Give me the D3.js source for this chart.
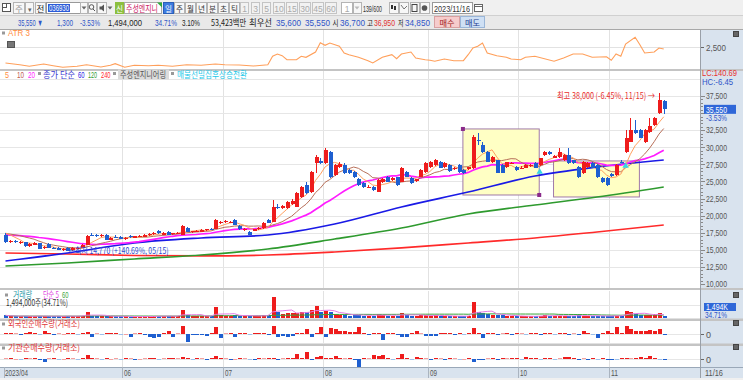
<!DOCTYPE html>
<html><head><meta charset="utf-8">
<script src="https://cdn.jsdelivr.net/npm/d3@7"></script>
<style>
body{margin:0;background:#fff;overflow:hidden}
svg{display:block;font-family:"Noto Sans CJK KR","Noto Sans",sans-serif}
</style></head><body><svg id="c" width="743" height="380"></svg>
<script>
// ---------------- DATA ----------------
const openP = [17150,16150,16300,16050,16100,15500,15750,15950,15200,15900,15300,15250,15000,15300,14950,15200,15300,15700,17200,17150,
17000,17150,16500,16900,16900,16600,16950,16800,16950,16900,17150,17300,17750,17200,17600,17250,17350,17200,18200,17550,
17650,17600,17850,18000,18100,18900,19000,18950,19400,18500,17900,17650,17800,18000,18200,19350,19050,21300,21100,21100,
21700,21300,22700,24500,23450,27700,28000,27700,29300,25950,27100,27400,26700,26400,25400,24800,24200,24200,23450,24900,
25650,25200,25650,24900,26400,25500,25100,25650,26400,27100,27400,27850,27100,27400,26800,27400,26700,26800,26950,31100,
30350,29300,27850,28100,27400,27100,27600,27100,26900,26950,27300,27700,27400,28850,29300,28450,28600,28150,28850,28100,
27100,26250,27100,27700,27400,25500,25500,26050,25950,27900,29300,30750,32550,32500,30750,32250,33250,35000,36700];
const highP = [17450,16450,16400,16250,16200,15980,16100,16050,15550,16050,15450,15350,15250,15400,15350,15450,15800,17150,17400,17300,
17250,17250,16900,17100,17000,16850,17100,17050,17100,17300,17400,17550,17900,17600,17750,17450,17550,18650,18350,17800,
17900,18000,18100,18150,19500,19250,19300,19250,19550,18650,18200,17700,18100,18300,19000,19500,22300,21650,21500,22100,
22400,23400,24300,24900,26500,28900,28400,29900,29500,27500,27800,27700,26800,26500,25500,24900,24500,24350,25350,25500,
25800,25650,25700,27100,26500,25600,25400,26800,27800,27950,28300,28000,27800,27550,27150,27500,26800,27150,31800,32100,
30700,29400,28700,28200,27500,27900,27900,27300,27300,27500,27550,27800,28500,29450,29400,28800,29900,28950,29900,28200,
27200,27950,27800,27800,27500,25650,25600,26200,27500,28100,32500,34300,34000,32700,32600,34300,34400,38000,36950];
const lowP = [16050,16000,15950,15900,15400,15400,15650,15100,15100,15250,15050,14950,14900,14770,14850,15100,15200,15650,16950,16900,
16850,16400,16400,16700,16550,16500,16800,16750,16850,16850,17050,17200,17350,17150,17150,17150,17250,17150,17550,17450,
17550,17550,17750,17850,18050,18800,18900,18850,18650,17950,17800,17150,17700,17900,18100,18850,19000,20900,20950,21000,
21500,21200,22600,23200,23300,26250,27500,27500,25500,25800,27000,26100,26100,25500,24400,24100,24000,23650,23400,24800,
24850,25100,24400,24850,25600,24700,24950,25600,26300,27000,27300,26900,27000,26450,26700,26300,26150,26700,26800,30300,
29200,27800,27700,26200,26200,26900,27500,26600,26800,26900,27100,26900,27300,28700,28900,28400,28500,28050,27600,27600,
25550,26150,27000,26900,25550,24800,24400,25700,25850,27700,29200,30700,31900,31300,30600,32100,33100,34900,34850];
const closeP = [16150,16300,16100,16150,15500,15900,15950,15150,15450,15300,15150,15000,15150,14900,15250,15300,15700,17000,17050,17000,
17100,16450,16800,16850,16600,16750,16900,16950,16950,17200,17300,17450,17450,17500,17200,17400,17450,18500,17600,17700,
17800,17900,18000,17950,19350,19100,19150,19100,18700,18000,18100,17200,18000,18200,18900,18950,21250,21100,21400,22000,
22200,23300,24200,23300,26400,28600,27700,29600,25650,27400,27600,26250,26250,25650,24500,24200,24250,23750,25200,25350,
24900,25500,24500,26950,25650,24800,25300,26700,27700,27850,28150,27000,27700,26500,27000,26400,26250,27050,31500,30900,
29300,27850,28600,26300,26300,27800,27750,26700,27000,27400,27450,26950,28450,29300,29000,28700,29300,28850,27700,27700,
25650,27850,27700,26950,25650,24900,24500,25800,27400,27800,31350,32500,32100,31350,32500,33100,34300,36850,35550];
// closes before the first visible bar (for the short moving averages)
const priorClose = [16900,16800,17000,16850,16950,17100,17000,16900,17050,17200,17100,17300,17250,17400,17500,17700,17900,17800,17750];
// long moving averages at these bars
const maIdx  = [0,13,27,41,55,69,83,97,111,124,138];
const ma60   = [13365,14535,16000,16730,17170,18780,21270,23460,25800,27120,28140];
const ma120  = [12630,13070,13660,14240,15120,16580,18190,20240,21560,22730,24190];
const ma240  = [14535,14390,14170,14100,14240,14680,15270,16000,16730,17610,18630];
// ATR(3)
const atrIdx = [0,3,5,8,10,12,15,17,20,22,23,25,27,30,32,35,38,41,44,46,49,52,55,56,57,58,59,61,62,63,65,66,67,68,70,71,72,74,76,77,79,81,82,83,85,86,88,89,90,92,94,96,97,98,99,100,101,103,105,106,108,109,111,115,117,119,121,123,126,127,128,129,130,132,133,134,136,137,138];
const atrVal = [790,605,430,681,496,321,430,605,354,539,714,321,539,496,539,430,605,539,681,605,572,463,605,1520,1770,1585,1149,1149,1520,1411,1988,3000,2718,2968,2609,1879,1694,1411,1040,790,1411,1694,1258,1770,1988,1334,1149,1084,975,1225,1040,1040,1694,2424,2609,2968,1879,1585,1411,1225,1149,1411,1520,975,1334,1770,1770,1411,1476,1084,1770,1520,2860,3590,2783,1879,1988,2424,2315];
// volume (thousand shares)
const volume = [2100,1500,1300,1200,1800,1400,1300,1900,1200,1500,1300,1600,1200,1800,1500,1300,2000,4800,
2000,1500,1300,1200,1800,1300,1400,1200,1000,1100,900,1500,1300,1400,1600,1500,1700,1200,1300,6400,
2600,1500,1400,1700,1500,1300,8500,2800,2000,1800,2400,1900,1600,1800,1500,1600,2200,2300,16500,
4500,3200,4000,3800,4200,5000,4600,6200,9500,4500,5800,5200,
3600,2800,2500,2000,2200,2800,2000,1800,2000,3000,2200,2000,1800,2000,4200,
2500,2000,1500,2200,2400,2000,2200,1600,1400,1800,1200,1500,1600,1400,13000,4500,4000,3500,
2500,2800,2200,1800,1500,1400,1300,1500,1200,1400,2000,2400,1800,1500,1700,1600,2000,1600,2200,2000,1500,1400,1800,1700,1600,1500,2000,1800,
5500,5200,3200,2600,2500,2300,3000,4304,1494];
// foreign / institution net buying (thousand shares)
const foreignNet = [60,90,40,-50,80,100,60,-40,190,50, -60,40,30,70,60,-40,50,125,-190,40, -30,50,80,60,-40,30,-190,40,60,-50,
-190,-250,-190,60,210,-190,40,500,-520,-60, -80,-60,-100,60,450,-250,40,50,-190,60, 70,-40,60,80,60,-50,500,-190,-150,-190,
-120,60,80,310,-200,70,420,-200,350,300, 200,190,100,150,420,80,-60,70,90,-380, 60,80,-50,-200,-190,60,160,40,-110,-100,
-120,60,80,70,-50,60,-40,50,380,60, -250,60,70,-50,40,80,-60,50,40,-40, 60,70,-50,80,60,-40,90,60,-50,40,
-60,160,50,-40,-250,60,160,70,420,60, 480,300,200,190,180,220,190,300,-60];
const instNet = [40,60,30,-40,50,40,60,-60,-170,40, 50,-40,30,60,40,-30,70,250,60,40, -40,50,30,40,-30,60,40,-50,30,40,
60,50,-40,40,50,60,40,150,60,-40, 50,40,-60,70,200,60,40,-50,30,60, 40,-40,-60,50,40,60,90,-50,40,60,
80,300,60,450,-60,150,200,60,90,190, 60,40,80,-60,-500,60,40,250,200,250, 60,-40,50,300,60,-40,150,60,40,-60,
50,40,-50,60,40,-40,30,60,-200,-60, -80,40,50,-50,60,40,70,50,-40,120, 60,80,-40,50,60,-40,40,150,150,60,
-50,40,-60,50,-40,60,-70,-60,-40,50, 60,40,80,150,60,180,70,-40,-60];
// pattern boxes and signals
const boxStart = [96,115], boxEnd = [112,133], boxTop = [32680,28000], boxBottom = [23020,22730];
const signalIdx = [112,130], signalPrice = [26390,27260];
const monthIdx = [25,46,67,89,108,127];
const monthLabel = ["06","07","08","09","10","11"];
const priceTicks = [10000,12500,15000,17500,20000,22500,25000,27500,30000,32500,37500];

// ---------------- HELPERS ----------------
const svg = d3.select('#c');
const n = closeP.length;
const PLOT_R = 700;
const RED = '#ee1c1c', BLUE = '#1e5fd0';
function T(g,x,y,s,o={}){
  const t=g.append('text').attr('x',x).attr('y',y).text(s)
    .attr('font-size',o.size||10).attr('fill',o.fill||'#222').attr('text-anchor',o.anchor||'start');
  if(o.w) t.attr('textLength',o.w).attr('lengthAdjust','spacingAndGlyphs');
  if(o.weight) t.attr('font-weight',o.weight);
  if(o.family) t.attr('font-family',o.family);
  return t;
}
const NUMF = '"Liberation Sans","DejaVu Sans",sans-serif';
function sma(arr, prior, len){
  const all = prior.concat(arr), off = prior.length;
  return arr.map((_,i)=>{const s=Math.max(0,i+off-len+1); return d3.mean(all.slice(s,i+off+1));});
}

const x = d3.scaleBand().domain(d3.range(n)).range([3.1, 3.1+4.77*n]);
const cx = i => x(i) + x.bandwidth()/2;

// ---------------- BACKGROUND ----------------
svg.append('rect').attr('width',743).attr('height',380).attr('fill','#ffffff');
svg.append('rect').attr('x',701).attr('y',30).attr('width',42).attr('height',350).attr('fill','#d9e3ee');
svg.append('rect').attr('x',0).attr('y',367).attr('width',743).attr('height',11).attr('fill','#d9e3ee');
svg.append('rect').attr('x',0).attr('y',378).attr('width',743).attr('height',2).attr('fill','#f0f0f0');

// ---------------- TOOLBAR ----------------
const tb = svg.append('g').attr('font-size',10);
tb.append('rect').attr('width',743).attr('height',15).attr('fill','#f0f0f0');
tb.append('rect').attr('y',15).attr('width',743).attr('height',14).attr('fill','#e9e9e9');
tb.append('line').attr('x1',0).attr('x2',743).attr('y1',15.5).attr('y2',15.5).attr('stroke','#d0d0d0');
tb.append('line').attr('x1',0).attr('x2',743).attr('y1',29.5).attr('y2',29.5).attr('stroke','#a8a8a8');
function btn(x0,w,label,o={}){
  tb.append('rect').attr('x',x0+0.5).attr('y',2.5).attr('width',w).attr('height',11)
    .attr('fill',o.bg||'#f7f7f7').attr('stroke',o.stroke||'#b4b4b4');
  if(label) T(tb,x0+w/2+0.5,11.5,label,{size:o.size||8.5,fill:o.fill||'#333',anchor:'middle',family:o.family,w:o.w});
}
tb.append('rect').attr('x',2.5).attr('y',3.5).attr('width',8).attr('height',8).attr('fill','#fff').attr('stroke','#555');
tb.append('rect').attr('x',2.5).attr('y',3.5).attr('width',4).attr('height',4).attr('fill','none').attr('stroke','#555');
btn(13,11,'주',{fill:'#999'}); btn(25,8,'▾',{size:7,fill:'#666'}); btn(35,10,'전',{fill:'#222'});
tb.append('rect').attr('x',46.5).attr('y',2.5).attr('width',40).attr('height',11).attr('fill','#fff').attr('stroke','#999');
tb.append('rect').attr('x',48).attr('y',4).attr('width',22).attr('height',8).attr('fill','#2a5bd7');
T(tb,49,11,'036930',{size:8.5,fill:'#fff',w:20,family:NUMF});
btn(80,7,'',{}); tb.append('path').attr('d','M81.5,6.5L86.5,6.5L84,9.5Z').attr('fill','#666');
btn(88,8,''); tb.append('circle').attr('cx',91.5).attr('cy',7).attr('r',2.3).attr('fill','none').attr('stroke','#555');
tb.append('line').attr('x1',93).attr('y1',9).attr('x2',95).attr('y2',11).attr('stroke','#555');
btn(97,9,''); tb.append('path').attr('d','M99.5,6.5L101.5,6.5L104,4.5L104,11.5L101.5,9.5L99.5,9.5Z').attr('fill','#555');
tb.append('path').attr('d','M107.5,6.5L112.5,6.5L110,9.5Z').attr('fill','#666');
tb.append('rect').attr('x',115).attr('y',2).attr('width',9).attr('height',12).attr('fill','#8cbf3f');
T(tb,119.5,11.5,'신',{size:8.5,fill:'#fff',anchor:'middle',w:7});
tb.append('rect').attr('x',124.5).attr('y',2.5).attr('width',37).attr('height',11).attr('fill','#fff').attr('stroke','#aaa');
T(tb,126,11.5,'주성엔지니',{size:9,fill:'#cc2266',w:32});
tb.append('path').attr('d','M157,2.5L162,2.5L162,7.5Z').attr('fill','#2eaa3c');
btn(163,10,'일',{bg:'#3d7be0',stroke:'#2b5fb8',fill:'#fff',w:7});
['주','월','년','분','초','틱'].forEach((s,k)=>btn(174+k*11,10,s,{fill:'#333',w:7}));
[['1',240,8],['3',251,8],['5',262,8],['10',273,11],['15',286,11],['30',299,11],['45',312,11],['60',325,11]]
  .forEach(d=>btn(d[1],d[2],d[0],{fill:'#aaa',family:NUMF,bg:'#f2f2f2',stroke:'#c4c4c4'}));
btn(341,11,'1',{fill:'#aaa',family:NUMF,bg:'#fff'});
btn(353,8,''); tb.append('path').attr('d','M354.5,6.5L359.5,6.5L357,9.5Z').attr('fill','#bbb');
T(tb,363,11.5,'139/600',{size:9,fill:'#333',w:19,family:NUMF});
[389,399,410,420].forEach(x0=>btn(x0,9,''));
tb.append('rect').attr('x',391).attr('y',5).attr('width',2).attr('height',4).attr('fill','#333');
tb.append('rect').attr('x',394).attr('y',6).attr('width',2).attr('height',4).attr('fill','#333');
tb.append('path').attr('d','M401,5L404,9L407,6').attr('fill','none').attr('stroke','#777');
tb.append('rect').attr('x',412).attr('y',4.5).attr('width',5).attr('height',7).attr('fill','none').attr('stroke','#444');
tb.append('circle').attr('cx',424.5).attr('cy',8).attr('r',2.8).attr('fill','#555');
tb.append('rect').attr('x',432.5).attr('y',2.5).attr('width',40).attr('height',11).attr('fill','#fff').attr('stroke','#999');
T(tb,434,11.5,'2023/11/16',{size:9,fill:'#333',w:36,family:NUMF});
tb.append('rect').attr('x',474.5).attr('y',4.5).attr('width',8).attr('height',7).attr('fill','#fff').attr('stroke','#666');
tb.append('line').attr('x1',474.5).attr('x2',482.5).attr('y1',6.5).attr('y2',6.5).attr('stroke','#666');
// quote row
const qy = 25.5;
T(tb,18,qy,'35,550 ▼',{size:9,fill:'#2f55c8',w:25,family:NUMF});
T(tb,57,qy,'1,300',{size:9,fill:'#2f55c8',w:16,family:NUMF});
T(tb,80,qy,'-3.53%',{size:9,fill:'#2f55c8',w:20,family:NUMF});
T(tb,108,qy,'1,494,000',{size:9,fill:'#222',w:34,family:NUMF});
T(tb,155,qy,'34.71%',{size:9,fill:'#2f55c8',w:22,family:NUMF});
T(tb,182,qy,'3.10%',{size:9,fill:'#222',w:18,family:NUMF});
T(tb,211,qy,'53,423백만',{size:9,fill:'#222',w:35});
T(tb,249,qy,'최우선',{size:9,fill:'#222',w:23});
T(tb,276,qy,'35,600',{size:9,fill:'#2f55c8',w:25,family:NUMF});
T(tb,305,qy,'35,550',{size:9,fill:'#2f55c8',w:25,family:NUMF});
T(tb,332.5,qy,'시',{size:8.5,fill:'#222',w:6});
T(tb,340,qy,'36,700',{size:9,fill:'#2f55c8',w:25,family:NUMF});
T(tb,367,qy,'고',{size:8.5,fill:'#222',w:6});
T(tb,374,qy,'36,950',{size:9,fill:'#e03030',w:21,family:NUMF});
T(tb,398,qy,'저',{size:8.5,fill:'#222',w:5.5});
T(tb,405,qy,'34,850',{size:9,fill:'#2f55c8',w:25,family:NUMF});
tb.append('rect').attr('x',434.5).attr('y',16.5).attr('width',25).attr('height',11).attr('fill','#f6cccc').attr('stroke','#d9a0a0');
T(tb,447,25.5,'매수',{size:8.5,fill:'#a02020',anchor:'middle',w:15});
tb.append('rect').attr('x',460.5).attr('y',16.5).attr('width',24).attr('height',11).attr('fill','#cfe0f4').attr('stroke','#9ab6d8');
T(tb,472.5,25.5,'매도',{size:8.5,fill:'#1f3f90',anchor:'middle',w:15});

// ---------------- PANELS ----------------
const panels = {atr:[30,69], price:[71,288], vol:[291,318.5], fr:[321,343.5], inst:[346,367]};
const defs = svg.append('defs');
Object.entries(panels).forEach(([k,v])=>{
  defs.append('clipPath').attr('id','cl-'+k).append('rect').attr('x',0).attr('y',v[0]).attr('width',PLOT_R).attr('height',v[1]-v[0]);
});
[[69,2],[288,2],[318.5,2.5],[343.5,2.5]].forEach(d=>svg.append('rect').attr('x',0).attr('y',d[0]).attr('width',743).attr('height',d[1]).attr('fill','#c4c4c4'));
svg.append('line').attr('x1',0).attr('x2',743).attr('y1',367.5).attr('y2',367.5).attr('stroke','#9aa8b8');
svg.append('line').attr('x1',700.5).attr('x2',700.5).attr('y1',30).attr('y2',378).attr('stroke','#9aa0a8');

const grid = svg.append('g').attr('stroke','#e2e2e2').attr('stroke-width',1);
monthIdx.forEach(i=>{
  const gx = Math.round(x(i))+0.5;
  Object.values(panels).forEach(v=>grid.append('line').attr('x1',gx).attr('x2',gx).attr('y1',v[0]).attr('y2',v[1]));
});

// ---------------- ATR PANEL ----------------
const yA = d3.scaleLinear().domain([0,4500]).range([70.25,28.94]);
const gA = svg.append('g').attr('clip-path','url(#cl-atr)');
gA.append('line').attr('x1',0).attr('x2',PLOT_R).attr('y1',Math.round(yA(2500))+0.5).attr('y2',Math.round(yA(2500))+0.5).attr('stroke','#e2e2e2');
gA.append('path').datum(atrIdx.map((d,k)=>[cx(d),yA(atrVal[k])]))
  .attr('d',d3.line()).attr('fill','none').attr('stroke','#ff9f5a').attr('stroke-width',1.1);
svg.append('rect').attr('x',2).attr('y',31.5).attr('width',3).attr('height',3).attr('fill','#999');
T(svg,8,36,'ATR 3',{size:9,fill:'#ff8c3c',family:NUMF,w:22});
svg.append('rect').attr('x',7.5).attr('y',41.5).attr('width',7).attr('height',6).attr('fill','#777').attr('stroke','#555');
svg.append('line').attr('x1',701).attr('x2',704).attr('y1',Math.round(yA(2500))+0.5).attr('y2',Math.round(yA(2500))+0.5).attr('stroke','#666');
T(svg,706,yA(2500)+3.2,'2,500',{size:9,fill:'#555',w:20,family:NUMF});

// ---------------- PRICE PANEL ----------------
const yP = d3.scaleLinear().domain([10000,37500]).range([284,96]);
const gP = svg.append('g').attr('clip-path','url(#cl-price)');
d3.range(12500,40001,2500).forEach(v=>{
  const yy=Math.round(yP(v))+0.5;
  gP.append('line').attr('x1',0).attr('x2',PLOT_R).attr('y1',yy).attr('y2',yy).attr('stroke','#e6e6e6');
});
boxStart.forEach((s,k)=>{
  const x0=cx(s)-0.5, x1=cx(boxEnd[k])-0.5;
  gP.append('rect').attr('x',x0).attr('y',yP(boxTop[k])).attr('width',x1-x0).attr('height',yP(boxBottom[k])-yP(boxTop[k]))
    .attr('fill','#ffffc4').attr('stroke','#a07aa8').attr('stroke-width',1);
});
[[cx(boxStart[0])-0.5,yP(boxTop[0])],[cx(boxEnd[0])-0.5,yP(boxBottom[0])]].forEach(p=>
  gP.append('rect').attr('x',p[0]-2).attr('y',p[1]-2).attr('width',4).attr('height',4).attr('fill','#8a2a8a'));
const lineC = d3.line().curve(d3.curveMonotoneX);
[[ma240,'#ff2a2a'],[ma120,'#2e9a2e'],[ma60,'#1a1ae6']].forEach(([arr,col])=>{
  gP.append('path').datum(maIdx.map((d,k)=>[cx(d),yP(arr[k])])).attr('d',lineC)
    .attr('fill','none').attr('stroke',col).attr('stroke-width',1.7);
});
const ma5 = sma(closeP,priorClose,5), ma10 = sma(closeP,priorClose,10), ma20 = sma(closeP,priorClose,20);
const lineL = d3.line().x((d,i)=>cx(i)).y(d=>yP(d));
gP.append('path').datum(ma20).attr('d',lineL).attr('fill','none').attr('stroke','#ff1cff').attr('stroke-width',1.7);
gP.append('path').datum(ma10).attr('d',lineL).attr('fill','none').attr('stroke','#b8705a').attr('stroke-width',1);
gP.append('path').datum(ma5).attr('d',lineL).attr('fill','none').attr('stroke','#ffa060').attr('stroke-width',1);
const gC = gP.append('g').attr('shape-rendering','crispEdges');
d3.range(n).forEach(i=>{
  const up = closeP[i] >= openP[i], col = up?RED:BLUE;
  const c = Math.round(cx(i));
  gC.append('line').attr('x1',c+0.5).attr('x2',c+0.5).attr('y1',yP(highP[i])).attr('y2',yP(lowP[i])).attr('stroke',col);
  const yt = Math.round(yP(Math.max(openP[i],closeP[i]))), yb = Math.round(yP(Math.min(openP[i],closeP[i])));
  gC.append('rect').attr('x',c-1).attr('y',yt).attr('width',4).attr('height',Math.max(1,yb-yt)).attr('fill',col);
});
signalIdx.forEach((s,k)=>gP.append('path').attr('d',d3.symbol(d3.symbolTriangle,18)())
  .attr('transform',`translate(${cx(s)},${yP(signalPrice[k])})`).attr('fill','#36d6e6'));
T(gP,cx(13)+1,254,'←최저 14,770 (+140.69%, 05/15)',{size:9,fill:'#2a4ad0',w:100});
T(gP,cx(137)-4,99,'최고 38,000 (-6.45%, 11/15) →',{size:9,fill:'#e83030',anchor:'end',w:98});
// legend
const lg = svg.append('g');
const ly = 77.5;
T(lg,5,ly,'5',{size:9,fill:'#ff8c3c',family:NUMF,w:4});
T(lg,17,ly,'10',{size:9,fill:'#c05a50',family:NUMF,w:7});
T(lg,28,ly,'20',{size:9,fill:'#ff1cff',family:NUMF,w:7});
lg.append('rect').attr('x',38).attr('y',72).attr('width',3).attr('height',3).attr('fill','#999');
T(lg,43,ly,'종가 단순',{size:9,fill:'#3a3ad0',w:32});
T(lg,78,ly,'60',{size:9,fill:'#1a1ae6',family:NUMF,w:6.5});
T(lg,88,ly,'120',{size:9,fill:'#2e9a2e',family:NUMF,w:9});
T(lg,101,ly,'240',{size:9,fill:'#ff2a2a',family:NUMF,w:9.5});
lg.append('rect').attr('x',113).attr('y',72).attr('width',3).attr('height',3).attr('fill','#999');
lg.append('rect').attr('x',118).attr('y',69.5).attr('width',51).attr('height',10).attr('fill','#dcdcdc');
T(lg,120,ly,'주성엔지니어링',{size:9,fill:'#555',w:46});
lg.append('rect').attr('x',171).attr('y',72).attr('width',3).attr('height',3).attr('fill','#999');
T(lg,177,ly,'매물선밀집후상승전환',{size:9,fill:'#22c8e8',w:70});
// price axis
const axP = svg.append('g');
d3.range(10000,37501,500).forEach(v=>{
  const yy=Math.round(yP(v))+0.5;
  axP.append('line').attr('x1',701).attr('x2',v%2500===0?705:703).attr('y1',yy).attr('y2',yy).attr('stroke','#888');
});
priceTicks.forEach(v=>T(axP,706,yP(v)+3.3,d3.format(',')(v),{size:9,fill:'#555',w:21,family:NUMF}));
axP.append('rect').attr('x',704).attr('y',yP(35550)-4.5).attr('width',32).attr('height',9).attr('fill','#2f67d8');
T(axP,706,yP(35550)+3.2,'35,550',{size:9,fill:'#fff',w:21,family:NUMF});
T(axP,706,yP(35550)+12,'-3.53%',{size:9,fill:'#2f55c8',w:21,family:NUMF});
T(axP,702,76,'LC:140.69',{size:9,fill:'#e83030',w:35,family:NUMF});
T(axP,702,84.5,'HC:-6.45',{size:9,fill:'#2f55c8',w:31,family:NUMF});

// ---------------- VOLUME ----------------
const yV = d3.scaleLinear().domain([0,20000]).range([318,293]);
const gV = svg.append('g').attr('clip-path','url(#cl-vol)');
gV.append('line').attr('x1',0).attr('x2',PLOT_R).attr('y1',305.5).attr('y2',305.5).attr('stroke','#e6e6e6');
const gVb = gV.append('g').attr('shape-rendering','crispEdges');
volume.forEach((v,i)=>{
  const c=Math.round(cx(i)), yt=Math.round(yV(v));
  gVb.append('rect').attr('x',c-1).attr('y',yt).attr('width',4).attr('height',Math.max(1,318-yt))
    .attr('fill',closeP[i]>=openP[i]?RED:BLUE);
});
const vma5 = sma(volume,[],5), vma60 = sma(volume,[],60);
gV.append('path').datum(vma60).attr('d',d3.line().x((d,i)=>cx(i)).y(d=>yV(d))).attr('fill','none').attr('stroke','#3aa63a').attr('stroke-width',1);
gV.append('path').datum(vma5).attr('d',d3.line().x((d,i)=>cx(i)).y(d=>yV(d))).attr('fill','none').attr('stroke','#e47ce4').attr('stroke-width',1);
svg.append('rect').attr('x',5).attr('y',293.5).attr('width',3).attr('height',3).attr('fill','#999');
T(svg,13,298,'거래량',{size:9,fill:'#2a9aa8',w:19});
T(svg,43,298,'단순 5',{size:9,fill:'#e040e0',w:16});
T(svg,62,298,'60',{size:9,fill:'#3aa63a',family:NUMF,w:6.5});
T(svg,6,306,'1,494,000주(34.71%)',{size:9,fill:'#333',w:62});
svg.append('rect').attr('x',704).attr('y',303).attr('width',32).attr('height',8).attr('fill','#2f67d8');
T(svg,706,310,'1,494K',{size:9,fill:'#fff',w:22,family:NUMF});
T(svg,705,317.5,'34.71%',{size:9,fill:'#2f55c8',w:22,family:NUMF});

// ---------------- NET BUY PANELS ----------------
function netPanel(arr, y0, title, clip, titleY){
  const yN = d3.scaleLinear().domain([-500,500]).range([y0+8,y0-8]);
  const g = svg.append('g').attr('clip-path',`url(#cl-${clip})`);
  g.append('line').attr('x1',0).attr('x2',PLOT_R).attr('y1',y0+0.5).attr('y2',y0+0.5).attr('stroke','#e6e6e6');
  const gb = g.append('g').attr('shape-rendering','crispEdges');
  arr.forEach((v,i)=>{
    const c=Math.round(cx(i)), yv=Math.round(yN(v));
    const small = Math.abs(v) < 45;
    const col = v>=0 ? (small?'#f4a0a0':RED) : (small?'#9cc0ec':BLUE);
    gb.append('rect').attr('x',c-1).attr('y',Math.min(yv,y0)).attr('width',4).attr('height',Math.max(1,Math.abs(yv-y0)))
      .attr('fill',col);
  });
  svg.append('rect').attr('x',2).attr('y',titleY-4.5).attr('width',3).attr('height',3).attr('fill','#999');
  T(svg,8,titleY,title,{size:9,fill:'#e03838',w:title.length>12?79:72});
  svg.append('line').attr('x1',701).attr('x2',704).attr('y1',y0+0.5).attr('y2',y0+0.5).attr('stroke','#666');
  T(svg,706,y0+3.5,'0',{size:9,fill:'#555',family:NUMF});
  svg.append('rect').attr('x',733.5).attr('y',titleY-6.5).attr('width',5).attr('height',5).attr('fill','#666').attr('stroke','#444');
}
netPanel(foreignNet,334,'외국인순매수량(거래소)','fr',327);
netPanel(instNet,359,'기관순매수량(거래소)','inst',351);
svg.append('rect').attr('x',733.5).attr('y',292.5).attr('width',5).attr('height',5).attr('fill','#666').attr('stroke','#444');
svg.append('rect').attr('x',733.5).attr('y',31.5).attr('width',5).attr('height',5).attr('fill','#666').attr('stroke','#444');

// ---------------- DATE AXIS ----------------
T(svg,5,375.5,'2023/04',{size:9,fill:'#555',w:23,family:NUMF});
monthIdx.forEach((i,k)=>{
  const gx=Math.round(x(i))+0.5;
  svg.append('line').attr('x1',gx).attr('x2',gx).attr('y1',367).attr('y2',378).attr('stroke','#aab4c0');
  T(svg,gx+1.5,375.5,monthLabel[k],{size:9,fill:'#555',family:NUMF,w:7});
});
svg.append('line').attr('x1',4.5).attr('x2',4.5).attr('y1',367).attr('y2',378).attr('stroke','#aab4c0');
T(svg,705,375.5,'11/16',{size:9,fill:'#555',w:18,family:NUMF});
</script></body></html>
